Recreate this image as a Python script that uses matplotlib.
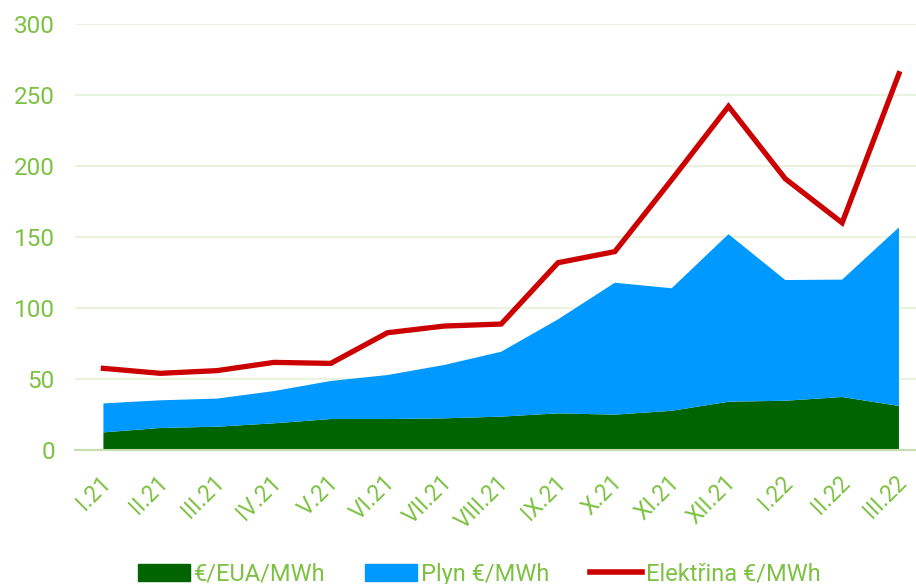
import matplotlib.pyplot as plt
import matplotlib.transforms as mtransforms
from matplotlib.patches import Patch
from matplotlib.lines import Line2D

plt.rcParams['font.family'] = ['Roboto', 'DejaVu Sans']

months = ['I.21', 'II.21', 'III.21', 'IV.21', 'V.21', 'VI.21', 'VII.21', 'VIII.21',
          'IX.21', 'X.21', 'XI.21', 'XII.21', 'I.22', 'II.22', 'III.22']
eua = [12.4, 15.5, 16.4, 18.8, 21.8, 21.8, 22.3, 23.5, 25.8, 24.9, 27.6, 34.0, 34.7, 37.3, 31.0]
plyn_total = [32.8, 35.0, 36.2, 41.5, 48.6, 52.8, 59.9, 69.2, 92.0, 117.8, 113.9, 152.0, 119.7, 120.0, 156.8]
elektrina = [57.5, 54.0, 55.9, 61.7, 61.0, 82.6, 87.3, 88.7, 131.9, 139.7, 190.3, 242.0, 191.0, 160.0, 265.0]

plyn = [t - e for t, e in zip(plyn_total, eua)]

green = '#006400'
blue = '#0099ff'
red = '#cc0000'
txt = '#7cc142'

fig = plt.figure(figsize=(9.16, 5.84), dpi=100)
ax = fig.add_axes([75/916, 134/584, 1 - 75/916, 426/584])

x = list(range(len(months)))
ax.stackplot(x, eua, plyn, colors=[green, blue], linewidth=0, zorder=2)
ax.plot(x, elektrina, color=red, linewidth=3.8, solid_joinstyle='miter', zorder=3)

ax.set_xlim(-0.5, 14.3)
ax.set_ylim(0, 300)
ax.set_yticks(range(0, 301, 50))
ax.set_xticks(x)
ax.set_xticklabels(months, rotation=45, ha='right', va='center', rotation_mode='anchor')
ax.tick_params(axis='y', colors=txt, labelsize=17.5, length=0, pad=14.5)
ax.tick_params(axis='x', colors=txt, labelsize=16.5, length=0, pad=21)
shift = mtransforms.ScaledTranslation(4/100, 0, fig.dpi_scale_trans)
for lab in ax.get_xticklabels():
    lab.set_transform(lab.get_transform() + shift)
ax.grid(axis='y', color='#eaf3e0', linewidth=1.5, zorder=0)
ax.set_axisbelow(True)
for s in ['top', 'right', 'left']:
    ax.spines[s].set_visible(False)
ax.spines['bottom'].set_color('#c5dfb0')
ax.spines['bottom'].set_linewidth(1.5)

handles = [Patch(color=green), Patch(color=blue), Line2D([0], [0], color=red, linewidth=4)]
labels = ['€/EUA/MWh', 'Plyn €/MWh', 'Elektřina €/MWh']
leg = fig.legend(handles, labels, loc='center', bbox_to_anchor=(0.523, 0.017), ncol=3,
                 frameon=False, fontsize=17, handlelength=2.2, handleheight=0.7,
                 columnspacing=1.7, handletextpad=0.17)
for t in leg.get_texts():
    t.set_color(txt)

fig.savefig('out.png', dpi=100)
